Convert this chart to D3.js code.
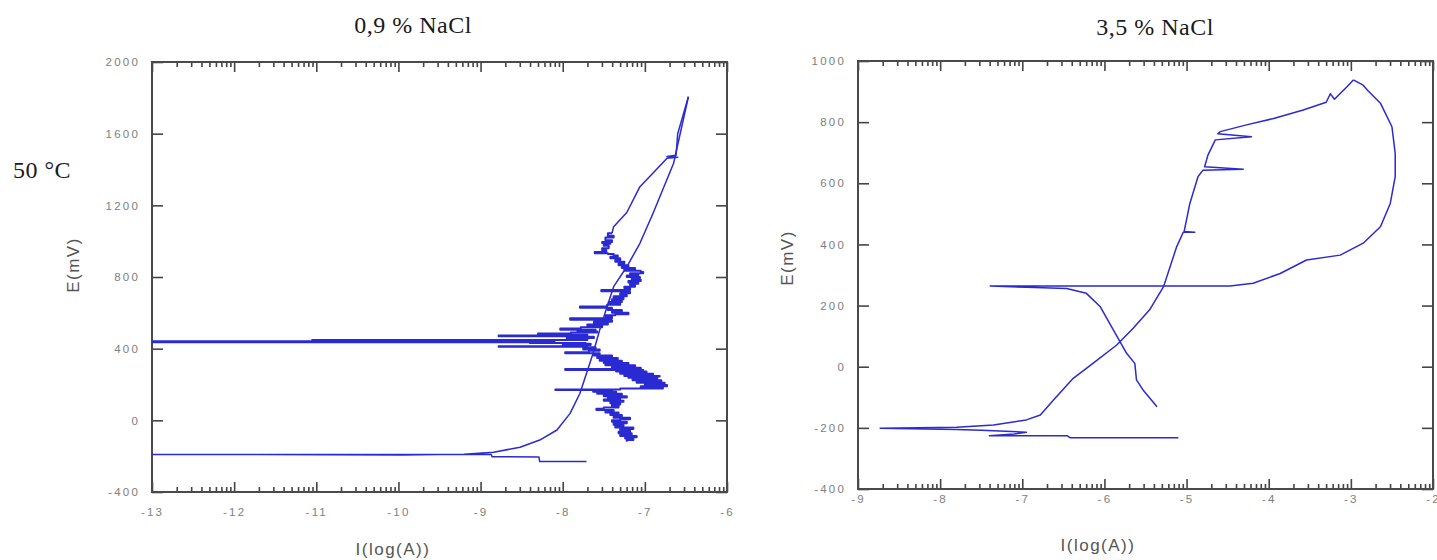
<!DOCTYPE html>
<html lang="en">
<head>
<meta charset="UTF-8">
<title>Cyclic polarization curves</title>
<script src="https://cdn.jsdelivr.net/npm/d3@7"></script>
<style>
  body { margin: 0; background: #fff; }
  svg { display: block; }
  .serif { font-family: "Liberation Serif", "Times New Roman", serif; fill: #1a1a1a; font-size: 24px; letter-spacing: 0.5px; }
  .tick text { font-family: "Liberation Sans", Arial, sans-serif; fill: #7e7e7e; font-size: 11.5px; letter-spacing: 2.2px; }
  .axis-title { font-family: "Liberation Sans", Arial, sans-serif; fill: #555; font-size: 17px; letter-spacing: 1.5px; }
</style>
</head>
<body>
<script>
const W = 1437, H = 560

// ---- 0,9 % NaCl ----
const leftXTicks = [-13, -12, -11, -10, -9, -8, -7, -6]
const leftYTicks = [-400, 0, 400, 800, 1200, 1600, 2000]

// forward scan: cathodic start, Ecorr spike, smooth anodic rise to the vertex
const leftFwdI = [-7.71, -8.28, -8.29, -8.86, -8.87, -9.6, -13.0, -9.95, -9.5, -9.2, -8.84, -8.52, -8.28, -8.07,
  -7.91, -7.79, -7.71, -7.63, -7.55, -7.46, -7.38, -7.22, -7.06, -6.90, -6.65, -6.47]
const leftFwdE = [-230, -230, -204, -203, -190, -191, -190, -193, -191, -189, -178, -150, -110, -54,
  39, 151, 263, 374, 504, 634, 746, 857, 988, 1156, 1435, 1806]

// reverse scan, smooth part: vertex down to ~1040 mV
const leftRevI = [-6.47, -6.60, -6.62, -6.73, -6.60, -6.73, -6.90, -7.06, -7.22, -7.38, -7.40]
const leftRevE = [1806, 1600, 1480, 1472, 1468, 1463, 1380, 1304, 1160, 1081, 1044]

// reverse scan, noisy part: pitting region and repassivation line at ~435 mV
const leftNoiseI = [-7.40, -7.45, -7.38, -7.48, -7.40, -7.52, -7.42, -7.50, -7.44, -7.52, -7.47, -7.61, -7.45,
  -7.38, -7.33, -7.42, -7.30, -7.36, -7.25, -7.32, -7.20, -7.28, -7.12, -7.25, -7.05, -7.02, -7.18, -7.08, -7.22,
  -7.06, -7.16, -7.05, -7.20, -7.08, -7.18, -7.12, -7.25, -7.18, -7.53, -7.28, -7.18, -7.30, -7.22, -7.38, -7.26,
  -7.40, -7.28, -7.44, -7.30, -7.46, -7.79, -7.40, -7.45, -7.28, -7.40, -7.20, -7.36, -7.48, -7.40, -7.91, -7.52,
  -7.40, -7.62, -7.45, -7.70, -7.52, -7.78, -8.03, -7.60, -7.82, -7.58, -7.90, -8.30, -7.70, -8.78, -7.75, -7.62,
  -7.95, -7.70, -11.05, -8.10, -13.0, -8.40, -7.72, -7.66, -8.00, -8.78, -7.70, -7.60, -7.75, -7.55, -7.68, -7.97,
  -7.55, -7.62, -7.40, -7.58, -7.33, -7.55, -7.28, -7.50, -7.20, -7.48, -7.12, -7.40, -7.05, -7.97, -7.02, -7.35,
  -6.98, -7.30, -6.90, -7.25, -6.82, -7.20, -6.85, -7.15, -6.80, -7.10, -6.76, -7.00, -6.73, -7.05, -6.78, -7.30,
  -8.09, -7.40, -7.63, -7.35, -7.58, -7.28, -7.50, -7.22, -7.45, -7.30, -7.50, -7.26, -7.42, -7.30, -7.40, -7.32,
  -7.50, -7.59, -7.38, -7.48, -7.32, -7.42, -7.28, -7.38, -7.18, -7.30, -7.40, -7.22, -7.38, -7.26, -7.36, -7.14,
  -7.30, -7.18, -7.32, -7.16, -7.30, -7.10, -7.24, -7.14, -7.22]
const leftNoiseE = [1044, 1030, 1020, 1005, 995, 990, 985, 975, 960, 950, 940, 932, 928,
  920, 913, 905, 895, 885, 875, 865, 857, 850, 842, 835, 828, 821, 815, 808, 800,
  792, 785, 778, 770, 762, 755, 745, 738, 728, 720, 716, 709, 700, 692, 684, 676,
  668, 660, 652, 645, 636, 628, 624, 616, 608, 600, 592, 586, 578, 570, 562, 558,
  550, 542, 535, 528, 520, 512, 506, 502, 496, 490, 484, 478, 474, 470, 466, 460,
  454, 448, 443, 441, 436, 432, 428, 420, 414, 411, 408, 402, 395, 388, 380, 374,
  370, 362, 355, 348, 340, 333, 326, 320, 314, 308, 300, 294, 287, 281, 278, 272,
  266, 260, 254, 248, 244, 238, 230, 224, 216, 210, 204, 197, 190, 184, 178, 172,
  169, 166, 160, 154, 148, 141, 135, 128, 122, 116, 110, 104, 96, 88, 80, 72,
  64, 58, 50, 44, 38, 30, 22, 14, 6, 0, -8, -16, -24, -32, -40, -48,
  -56, -64, -72, -80, -88, -95, -102, -110, -119]

// ---- 3,5 % NaCl ----
const rightXTicks = [-9, -8, -7, -6, -5, -4, -3, -2]
const rightYTicks = [-400, -200, 0, 200, 400, 600, 800, 1000]

const rightFwdI = [-5.10, -6.42, -6.45, -7.40, -7.10, -6.95, -7.50, -7.80, -8.73, -7.80, -7.35, -6.95, -6.78,
  -6.62, -6.38, -6.14, -5.85, -5.65, -5.45, -5.28, -5.12, -5.04, -4.90, -5.03, -4.96, -4.86, -4.80, -4.31, -4.78,
  -4.74, -4.65, -4.21, -4.62, -4.59, -4.27, -3.94, -3.58, -3.30, -3.25, -3.20, -3.05, -2.97]
const rightFwdE = [-232, -232, -226, -226, -220, -214, -208, -205, -201, -198, -191, -174, -158,
  -109, -38, 11, 71, 126, 186, 262, 393, 440, 440, 442, 534, 622, 643, 646, 654,
  692, 742, 752, 762, 769, 791, 812, 840, 865, 893, 875, 915, 938]

const rightRevI = [-2.97, -2.85, -2.80, -2.64, -2.50, -2.46, -2.46, -2.52, -2.64, -2.85, -3.13, -3.54, -3.86,
  -4.19, -4.47, -7.39, -6.95, -6.46, -6.22, -6.05, -5.89, -5.73, -5.63, -5.61, -5.53, -5.36]
const rightRevE = [938, 921, 905, 862, 785, 698, 622, 534, 458, 404, 365, 349, 305,
  273, 264, 264, 260, 256, 240, 196, 120, 44, 11, -43, -76, -131]

const svg = d3.select('body').append('svg')
  .attr('width', W)
  .attr('height', H)

svg.append('text').attr('class', 'serif')
  .attr('x', 13).attr('y', 178)
  .text('50 °C')

const panels = [
  {
    id: 'l', title: '0,9 % NaCl', titleX: 413, titleY: 33,
    xTicks: leftXTicks, yTicks: leftYTicks,
    left: 152, right: 727, top: 62, bottom: 492,
    yTitleX: 73, yTitleY: 265, xTitleX: 393, xTitleY: 555, xPad: 16,
    curves: [
      [leftFwdI, leftFwdE, 1.5, d3.curveLinear],
      [leftRevI, leftRevE, 1.5, d3.curveLinear],
      [leftNoiseI, leftNoiseE, 2, d3.curveStepAfter]
    ]
  },
  {
    id: 'r', title: '3,5 % NaCl', titleX: 1155, titleY: 35,
    xTicks: rightXTicks, yTicks: rightYTicks,
    left: 858, right: 1433, top: 61, bottom: 489,
    yTitleX: 787, yTitleY: 258, xTitleX: 1098, xTitleY: 551, xPad: 6,
    curves: [
      [rightFwdI, rightFwdE, 1.5, d3.curveLinear],
      [rightRevI, rightRevE, 1.5, d3.curveLinear]
    ]
  }
]

panels.forEach(p => {
  const x = d3.scaleLinear().domain(d3.extent(p.xTicks)).range([p.left, p.right])
  const y = d3.scaleLinear().domain(d3.extent(p.yTicks)).range([p.bottom, p.top])

  // log-decade minor ticks between the major ones
  const minor = p.xTicks.slice(0, -1).flatMap(t => d3.range(2, 10).map(k => t + Math.log10(k)))
  const fmt = d => String(d)

  const g = svg.append('g')

  g.append('text').attr('class', 'serif')
    .attr('x', p.titleX).attr('y', p.titleY)
    .attr('text-anchor', 'middle')
    .text(p.title)

  // bottom
  g.append('g')
    .attr('transform', `translate(0, ${p.bottom})`)
    .call(d3.axisBottom(x).tickValues(minor).tickSizeInner(-5).tickSizeOuter(0).tickFormat(''))
  g.append('g')
    .attr('transform', `translate(0, ${p.bottom})`)
    .call(d3.axisBottom(x).tickValues(p.xTicks).tickSizeInner(-10).tickSizeOuter(0).tickPadding(p.xPad).tickFormat(fmt))
  // top
  g.append('g')
    .attr('transform', `translate(0, ${p.top})`)
    .call(d3.axisTop(x).tickValues(minor).tickSizeInner(-5).tickSizeOuter(0).tickFormat(''))
  g.append('g')
    .attr('transform', `translate(0, ${p.top})`)
    .call(d3.axisTop(x).tickValues(p.xTicks).tickSizeInner(-10).tickSizeOuter(0).tickFormat(''))
  // left / right
  g.append('g')
    .attr('transform', `translate(${p.left}, 0)`)
    .call(d3.axisLeft(y).tickValues(p.yTicks).tickSizeInner(-11).tickSizeOuter(0).tickPadding(12).tickFormat(fmt))
  g.append('g')
    .attr('transform', `translate(${p.right}, 0)`)
    .call(d3.axisRight(y).tickValues(p.yTicks).tickSizeInner(-11).tickSizeOuter(0).tickFormat(''))

  g.selectAll('.domain').remove()
  g.selectAll('.tick line').attr('stroke', '#444').attr('stroke-width', 1.6)

  g.append('rect')
    .attr('x', p.left).attr('y', p.top)
    .attr('width', p.right - p.left).attr('height', p.bottom - p.top)
    .attr('fill', 'none')
    .attr('stroke', '#4a4a4a')
    .attr('stroke-width', 2)

  g.append('clipPath').attr('id', 'clip-' + p.id)
    .append('rect')
    .attr('x', p.left).attr('y', p.top)
    .attr('width', p.right - p.left).attr('height', p.bottom - p.top)

  g.append('g')
    .attr('clip-path', `url(#clip-${p.id})`)
    .selectAll('path')
    .data(p.curves)
    .enter()
    .append('path')
    .attr('d', c => d3.line()
      .x(d => x(d[0]))
      .y(d => y(d[1]))
      .curve(c[3])(c[0].map((v, i) => [v, c[1][i]])))
    .attr('fill', 'none')
    .attr('stroke', '#2a2ad2')
    .attr('stroke-width', c => c[2])
    .attr('stroke-linejoin', 'round')

  g.append('text').attr('class', 'axis-title')
    .attr('transform', `translate(${p.yTitleX}, ${p.yTitleY}) rotate(-90)`)
    .attr('text-anchor', 'middle')
    .attr('dy', '0.35em')
    .text('E(mV)')

  g.append('text').attr('class', 'axis-title')
    .attr('x', p.xTitleX).attr('y', p.xTitleY)
    .attr('text-anchor', 'middle')
    .text('I(log(A))')
})
</script>
</body>
</html>
